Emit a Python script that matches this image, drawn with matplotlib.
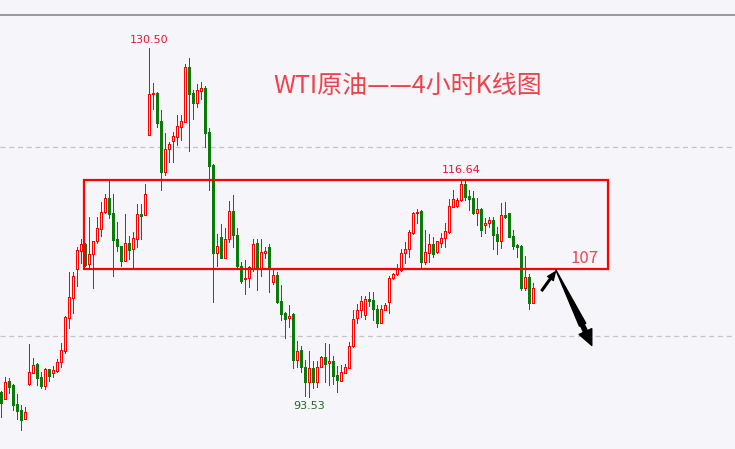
import matplotlib
matplotlib.use("Agg")
import matplotlib.pyplot as plt
from matplotlib.patches import Rectangle, FancyArrowPatch

# WTI 4h candles (open, high, low, close)
opens = [94.07, 93.31, 95.24, 94.79, 92.81, 92.17, 91.19, 94.93, 96.12, 97.00,
         95.67, 94.71, 96.48, 96.12, 96.34, 97.22, 98.45, 101.94, 104.06, 107.13,
         109.03, 109.74, 107.59, 108.65, 110.02, 111.32, 113.09, 114.57, 112.99, 110.23,
         109.49, 107.94, 109.84, 109.24, 110.27, 112.95, 112.77, 121.30, 125.58, 125.74,
         122.75, 117.35, 119.76, 120.67, 121.09, 122.15, 122.68, 128.46, 125.71, 124.62,
         125.96, 126.24, 121.59, 118.10, 108.82, 110.45, 108.29, 110.23, 113.23, 110.69,
         107.41, 106.00, 106.11, 107.17, 109.81, 107.17, 108.82, 109.39, 105.75, 106.46,
         103.71, 102.47, 101.88, 102.33, 97.50, 98.49, 96.72, 95.17, 96.59, 95.17,
         96.76, 97.75, 97.11, 97.36, 95.88, 95.28, 96.12, 96.65, 98.98, 101.88,
         102.72, 102.26, 103.95, 103.81, 102.82, 101.41, 102.75, 103.63, 106.11, 106.53,
         106.99, 108.75, 109.18, 110.87, 112.99, 113.20, 107.87, 108.82, 109.74, 108.89,
         109.89, 110.34, 111.01, 113.69, 113.76, 114.39, 116.09, 114.82, 114.61, 112.99,
         113.41, 111.75, 111.93, 112.28, 110.80, 110.09, 112.81, 112.99, 110.58, 109.63,
         109.53, 105.05, 106.21, 103.53]
highs = [94.18, 95.67, 95.56, 94.89, 93.87, 92.70, 92.49, 99.13, 97.64, 97.15,
         96.23, 96.60, 96.55, 96.83, 97.57, 99.30, 102.12, 106.78, 106.78, 109.42,
         110.27, 109.84, 112.63, 110.05, 112.63, 114.21, 115.03, 116.51, 115.03, 112.07,
         109.53, 112.91, 110.62, 111.04, 113.94, 113.94, 116.09, 130.50, 126.74, 125.82,
         123.91, 121.48, 120.56, 121.59, 123.39, 123.39, 128.78, 129.42, 126.03, 126.67,
         126.88, 126.45, 122.01, 118.20, 110.80, 111.82, 111.40, 114.29, 114.92, 111.40,
         107.87, 108.04, 107.44, 110.27, 110.27, 110.27, 109.39, 109.74, 106.99, 106.81,
         105.40, 102.50, 103.28, 102.43, 99.51, 98.95, 97.46, 98.42, 97.36, 97.36,
         97.92, 99.23, 99.16, 97.89, 96.86, 96.93, 97.00, 99.34, 102.75, 103.39,
         104.24, 104.24, 104.69, 104.69, 103.28, 103.28, 103.46, 106.35, 106.63, 107.62,
         109.18, 109.98, 111.22, 113.16, 113.41, 113.33, 111.22, 110.80, 110.51, 110.09,
         110.87, 111.93, 114.46, 115.45, 114.57, 116.64, 116.44, 115.45, 115.38, 114.57,
         113.50, 112.46, 112.56, 112.63, 111.57, 114.04, 114.21, 113.06, 111.22, 109.74,
         109.63, 108.47, 106.56, 105.58]
lows = [91.43, 93.30, 94.00, 92.17, 91.22, 90.06, 91.19, 94.85, 96.06, 94.82,
        94.50, 94.43, 95.27, 95.67, 96.19, 96.76, 98.24, 100.88, 102.47, 105.29,
        107.76, 107.40, 107.33, 105.11, 109.89, 110.62, 112.99, 112.49, 106.38, 108.97,
        107.44, 107.94, 108.15, 107.13, 109.39, 110.23, 112.77, 121.30, 123.99, 122.15,
        115.48, 117.04, 118.38, 118.44, 120.21, 120.74, 122.68, 119.61, 123.00, 124.26,
        125.08, 120.03, 115.45, 103.63, 107.41, 108.29, 108.29, 109.98, 109.45, 107.17,
        105.64, 104.48, 105.16, 106.88, 104.87, 106.38, 108.22, 104.69, 105.50, 103.46,
        101.69, 99.76, 100.99, 96.59, 96.76, 96.23, 93.62, 93.53, 94.47, 94.64,
        96.76, 95.17, 94.82, 94.89, 94.05, 95.28, 96.06, 96.59, 98.87, 101.35,
        102.05, 101.77, 103.18, 101.69, 100.99, 101.35, 102.70, 102.47, 106.00, 106.46,
        106.91, 107.69, 108.39, 110.80, 111.99, 107.17, 107.62, 107.87, 108.33, 108.75,
        109.45, 109.39, 110.90, 113.62, 113.62, 114.32, 114.39, 113.33, 112.88, 111.75,
        110.58, 110.87, 111.57, 109.18, 108.68, 109.29, 112.46, 110.44, 109.18, 108.33,
        104.87, 104.87, 102.82, 103.53]
closes = [92.91, 95.17, 94.64, 92.74, 92.10, 91.15, 91.96, 96.16, 96.93, 95.59,
          94.71, 96.48, 95.80, 96.37, 97.22, 98.52, 101.98, 104.10, 106.35, 109.10,
          109.71, 107.55, 108.68, 110.02, 111.40, 113.09, 114.57, 112.95, 110.19, 109.49,
          107.97, 109.81, 109.13, 110.34, 112.91, 112.73, 114.99, 125.61, 125.71, 122.57,
          117.35, 119.79, 120.32, 121.16, 122.22, 122.75, 128.46, 125.64, 124.69, 126.03,
          126.24, 121.51, 118.02, 108.82, 109.53, 108.29, 110.27, 113.23, 110.69, 107.38,
          105.85, 106.17, 107.34, 109.74, 107.09, 108.86, 109.03, 107.17, 106.46, 103.63,
          102.30, 101.80, 102.12, 97.50, 98.42, 96.69, 95.17, 96.59, 95.17, 96.69,
          97.75, 97.07, 97.36, 95.80, 95.35, 96.16, 96.69, 98.95, 101.77, 102.75,
          103.71, 103.95, 103.74, 102.82, 101.41, 102.82, 103.28, 106.14, 106.56, 107.06,
          108.75, 109.18, 111.01, 112.99, 113.16, 107.87, 108.89, 109.74, 108.68, 110.02,
          110.37, 111.14, 113.76, 114.47, 114.39, 116.09, 114.75, 114.54, 112.99, 113.41,
          111.22, 111.99, 112.28, 110.69, 110.09, 112.81, 112.56, 110.51, 109.53, 109.39,
          105.05, 106.21, 103.53, 105.05]

title = "WTI原油——4小时K线图"
zone_top = 116.5
zone_bottom = 107.1
zone_label = "107"

bg = "#f6f6fa"
up_col = "#ff0000"
down_col = "#0a7a0a"

fig = plt.figure(figsize=(7.35, 4.49), dpi=100, facecolor=bg)
ax = fig.add_axes([0, 0, 1, 1 - 15 / 449])
ax.set_facecolor(bg)

n = len(opens)
xs = list(range(n))

# wicks first, bodies on top
for i in xs:
    c = up_col if closes[i] >= opens[i] else down_col
    ax.vlines(i, lows[i], highs[i], color=c, lw=0.6, zorder=2, antialiased=False)
for i in xs:
    up = closes[i] >= opens[i]
    lo = min(opens[i], closes[i])
    h = max(abs(closes[i] - opens[i]), 0.12)
    c = up_col if up else down_col
    ax.bar(i, h, bottom=lo, width=0.5, color=bg if up else down_col,
           edgecolor=c, linewidth=0.6, zorder=3, antialiased=False)

ax.set_xlim(-0.33, 183.4)
ax.set_ylim(88.04, 133.97)

for lvl in (100, 120):
    ax.axhline(lvl, color="#c4c4c8", lw=0.9, ls=(0, (4, 3)), zorder=1)

for s in ("left", "right", "bottom"):
    ax.spines[s].set_visible(False)
ax.spines["top"].set_color("#8a8a8a")
ax.spines["top"].set_linewidth(1.2)
ax.set_xticks([])
ax.set_yticks([])

# high / low labels
hi_i = highs.index(max(highs))
ax.annotate(f"{highs[hi_i]:.2f}", (hi_i, highs[hi_i]), xytext=(0, 5.5),
            textcoords="offset points", ha="center", va="center",
            fontsize=8, color="#ee1133")
hi2 = 115
ax.annotate(f"{highs[hi2]:.2f}", (hi2, highs[hi2]), xytext=(0, 6),
            textcoords="offset points", ha="center", va="center",
            fontsize=8, color="#ee1133")
lo_i = lows.index(min(lows[60:100]))
ax.annotate(f"{lows[lo_i]:.2f}", (lo_i, lows[lo_i]), xytext=(0, -6.5),
            textcoords="offset points", ha="center", va="center",
            fontsize=8, color="#226622")

# range box
ax.add_patch(Rectangle((20.7, zone_bottom), 151.7 - 20.7, zone_top - zone_bottom,
                       fill=False, edgecolor="#ff0000", lw=1.6, zorder=4))
ax.text(145.7, 108.2, zone_label, ha="center", va="center", fontsize=12,
        color="#f04552", family=["Noto Sans CJK SC", "DejaVu Sans"])

# arrows
ax.add_patch(FancyArrowPatch((135.1, 104.8), (138.5, 106.8),
                             arrowstyle="simple,head_width=5,head_length=6,tail_width=1.2",
                             color="black", zorder=5, shrinkA=0, shrinkB=0))
# tapered shaft, thin at the top, then the head
ax.add_patch(FancyArrowPatch((145.3, 101.2), (138.6, 107.0),
                             arrowstyle="wedge,tail_width=5,shrink_factor=0.5",
                             color="black", zorder=5, shrinkA=0, shrinkB=0))
ax.add_patch(FancyArrowPatch((144.8, 101.6), (147.6, 99.0),
                             arrowstyle="simple,head_width=10,head_length=11,tail_width=3",
                             color="black", zorder=5, shrinkA=0, shrinkB=0))

fig.text(407.5 / 735, 1 - 87 / 449, title, ha="center", va="center",
         fontsize=18, color="#f0414b", family=["Noto Sans CJK SC", "DejaVu Sans"])

fig.savefig("out.png", dpi=100, facecolor=bg)
